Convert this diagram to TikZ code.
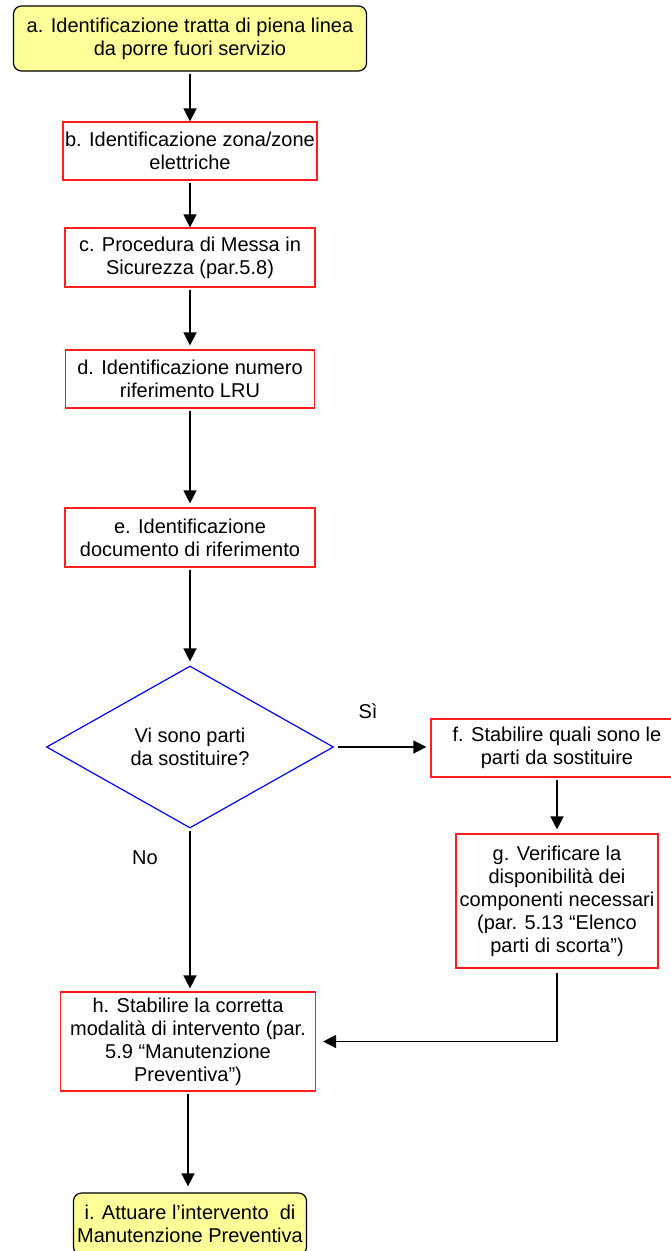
\documentclass[tikz,border=0pt]{standalone}
\usepackage{fontspec}
\setmainfont{Liberation Sans}
\usetikzlibrary{shapes.geometric,arrows.meta}
\definecolor{giallino}{RGB}{255,255,153}
\definecolor{rossobordo}{RGB}{255,30,30}

\begin{document}
\begin{tikzpicture}[x=1pt,y=-1pt,
  font=\fontsize{20}{23}\selectfont,
  estremo/.style={draw=black,fill=giallino,rounded corners=8pt,line width=1.2pt,align=center,inner sep=2pt},
  passo/.style={draw=rossobordo,line width=1.2pt,align=center,inner sep=2pt},
  scelta/.style={diamond,draw=blue,line width=1.2pt,align=center,aspect=1.77,inner sep=0pt,minimum width=287pt,minimum height=162pt},
  freccia/.style={-{Triangle[length=13pt,width=13pt]},line width=1.4pt,shorten <=2pt}]
\useasboundingbox (0,0) rectangle (671,1251);

\node[estremo,minimum width=353pt,minimum height=65pt] (a) at (190,38.5) {a. Identificazione tratta di piena linea\\da porre fuori servizio};
\node[passo,minimum width=253pt,minimum height=58pt] (b) at (190,151) {b. Identificazione zona/zone\\elettriche};
\node[passo,minimum width=250pt,minimum height=59pt] (c) at (190,257.5) {c. Procedura di Messa in\\Sicurezza (par.5.8)};
\node[passo,minimum width=249pt,minimum height=58pt] (d) at (190,379) {d. Identificazione numero\\riferimento LRU};
\node[passo,minimum width=250pt,minimum height=59pt] (e) at (190,537.5) {e. Identificazione\\documento di riferimento};
\node[scelta] (q) at (190,747) {Vi sono parti\\da sostituire?};
\node[passo,minimum width=252pt,minimum height=58pt] (f) at (557,748) {f. Stabilire quali sono le\\parti da sostituire};
\node[passo,minimum width=202pt,minimum height=134pt] (g) at (557,901) {g. Verificare la\\disponibilità dei\\componenti necessari\\(par. 5.13 “Elenco\\parti di scorta”)};
\node[passo,minimum width=255pt,minimum height=99pt] (h) at (188,1041.5) {h. Stabilire la corretta\\modalità di intervento (par.\\5.9 “Manutenzione\\Preventiva”)};
\node[estremo,minimum width=233pt,minimum height=62pt] (i) at (190,1224) {i. Attuare l’intervento\ \ di\\Manutenzione Preventiva};

\node (si) at (368,711) {Sì};
\node (no) at (145,858) {No};

\draw[freccia] (a) -- (b);
\draw[freccia] (b) -- (c);
\draw[freccia,shorten >=4pt] (c) -- (d);
\draw[freccia,shorten >=4pt] (d) -- (e);
\draw[freccia,shorten >=4pt] (e) -- (q);
\draw[freccia,shorten <=4pt,shorten >=4pt] (q.east) -- (f.west |- q.east);
\draw[freccia,shorten >=4pt] (f) -- (g);
\draw[freccia,shorten >=3pt] (q.south) -- (q.south |- h.north);
\draw[freccia,shorten <=4pt,shorten >=7pt] (g.south) |- (h.east);
\draw[freccia,shorten >=6pt] (h.south) -- (h.south |- i.north);
\end{tikzpicture}
\end{document}
